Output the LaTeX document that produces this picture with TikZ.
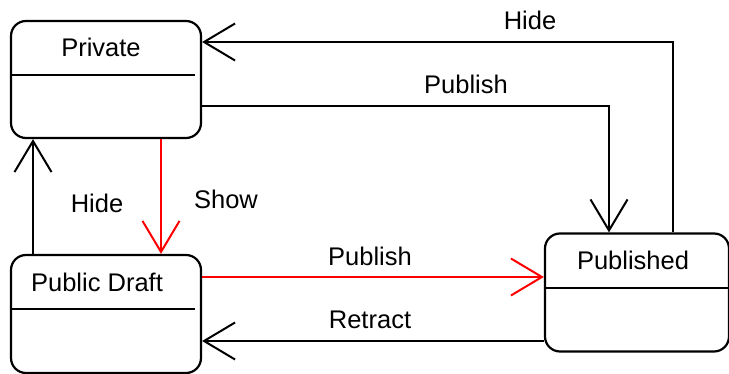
\documentclass[tikz,border=0pt]{standalone}
\usepackage{fontspec}
\setmainfont{Liberation Sans}
\usetikzlibrary{arrows.meta}

\tikzset{
    state/.style={draw, line width=2.2pt, rounded corners=15pt, inner sep=0pt},
    arr/.style={line width=2pt, -{Straight Barb[length=31pt,width=37pt,line width=2pt]}},
    lbl/.style={inner sep=0pt, font=\fontsize{25.5}{30}\selectfont},
}

\begin{document}
    \begin{tikzpicture}[x=1pt,y=-1pt]
        \useasboundingbox (0,0) rectangle (729,374);

        % states
        \node[state, minimum width=190pt, minimum height=117pt] (private) at (106,79.5) {};
        \node[state, minimum width=190pt, minimum height=118pt] (draft) at (106,314) {};
        \node[state, minimum width=184pt, minimum height=118pt] (published) at (637,292.5) {};

        \draw[line width=2pt] (12,75) -- (195,75);
        \draw[line width=2pt] (12,309) -- (195,309);
        \draw[line width=2pt] (545,288) -- (729,288);

        \node[lbl] (privT) at (101,47) {Private};
        \node[lbl] (draftT) at (97,282) {Public Draft};
        \node[lbl] (pubT) at (633,260) {Published};

        % transitions
        \draw[arr] (published.north -| 673,0) |- (private.east |- 0,42);
        \draw[arr] (private.east |- 0,106) -| (published.north -| 609,0);
        \draw[arr,red] (private.south -| 161,0) -- (draft.north -| 161,0);
        \draw[arr] (draft.north -| 33,0) -- (private.south -| 33,0);
        \draw[arr,red] (draft.east |- 0,277) -- (published.west |- 0,277);
        \draw[arr] (published.west |- 0,341) -- (draft.east |- 0,341);

        \node[lbl] (hideT) at (530,20) {Hide};
        \node[lbl] (publishT) at (466,84) {Publish};
        \node[lbl] (hideL) at (97,203) {Hide};
        \node[lbl] (showL) at (226,199) {Show};
        \node[lbl] (publishR) at (370,256) {Publish};
        \node[lbl] (retractL) at (370,320) {Retract};
    \end{tikzpicture}
\end{document}
